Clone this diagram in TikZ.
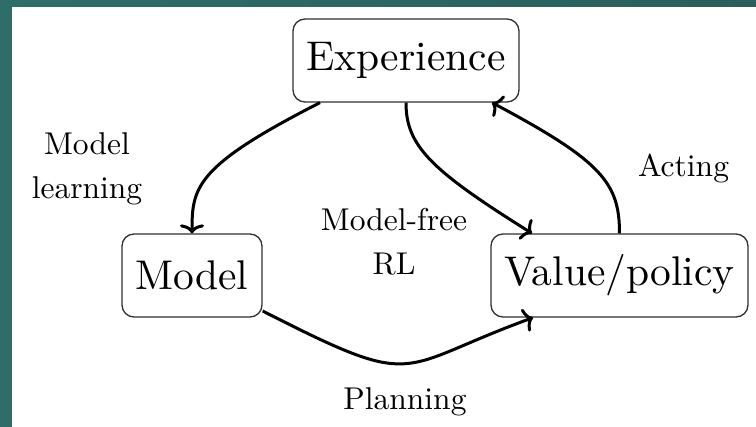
\documentclass[tikz,border=0pt]{standalone}
\usetikzlibrary{arrows.meta}
\DeclareFontFamily{TU}{lmten}{}
\DeclareFontShape{TU}{lmten}{m}{n}{<-> "[lmroman10-regular]:+tlig;"}{}
\definecolor{tealL}{HTML}{2E6E69}
\definecolor{tealR}{HTML}{2B5E5B}
\definecolor{boxgray}{HTML}{303030}
\begin{document}
\begin{tikzpicture}[x=1pt,y=1pt,
  box/.style={draw=boxgray, line width=1.3pt, rounded corners=12pt, fill=white,
    minimum height=83pt, inner xsep=13pt, inner ysep=0pt,
    font=\fontfamily{lmten}\fontsize{41.5}{50}\selectfont},
  lbl/.style={inner sep=0pt, align=center, font=\fontfamily{lmten}\fontsize{31.5}{44}\selectfont},
  arr/.style={line width=3pt, -{To[length=9pt,width=24pt]}}]
\useasboundingbox (0,0) rectangle (756,-427);
\fill[tealL] (0,0) rectangle (756,-427);
\shade[left color=tealL, right color=tealR] (0,0) rectangle (756,-7);
\fill[white] (12,-7) rectangle (756,-427);
\node[box, minimum width=226pt] (exp) at (406,-60.5) {Experience};
\node[box, minimum width=140pt] (model) at (192,-275.5) {Model};
\node[box, minimum width=257pt] (val) at (619.5,-275.5) {Value/policy};
\node[lbl] (ml) at (87,-169) {Model\\learning};
\node[lbl] (mf) at (394,-242) {Model-free\\RL};
\node[lbl, anchor=base] (act) at (683.5,-177) {Acting};
\node[lbl, anchor=base] (plan) at (405,-410) {Planning};
\draw[arr] ([xshift=-86pt]exp.south) .. controls +(-153:140) and +(90:46) .. (model.north);
\draw[arr] (exp.south) .. controls +(-90:43) and +(148:120) .. ([xshift=-87.5pt]val.north);
\draw[arr] (val.north) .. controls +(90:50) and +(-28:125) .. ([xshift=86pt]exp.south);
\draw[arr] ([yshift=-35.5pt]model.east) .. controls +(-27:178) and +(-160:148) .. ([xshift=-86.5pt]val.south);
\end{tikzpicture}
\end{document}
